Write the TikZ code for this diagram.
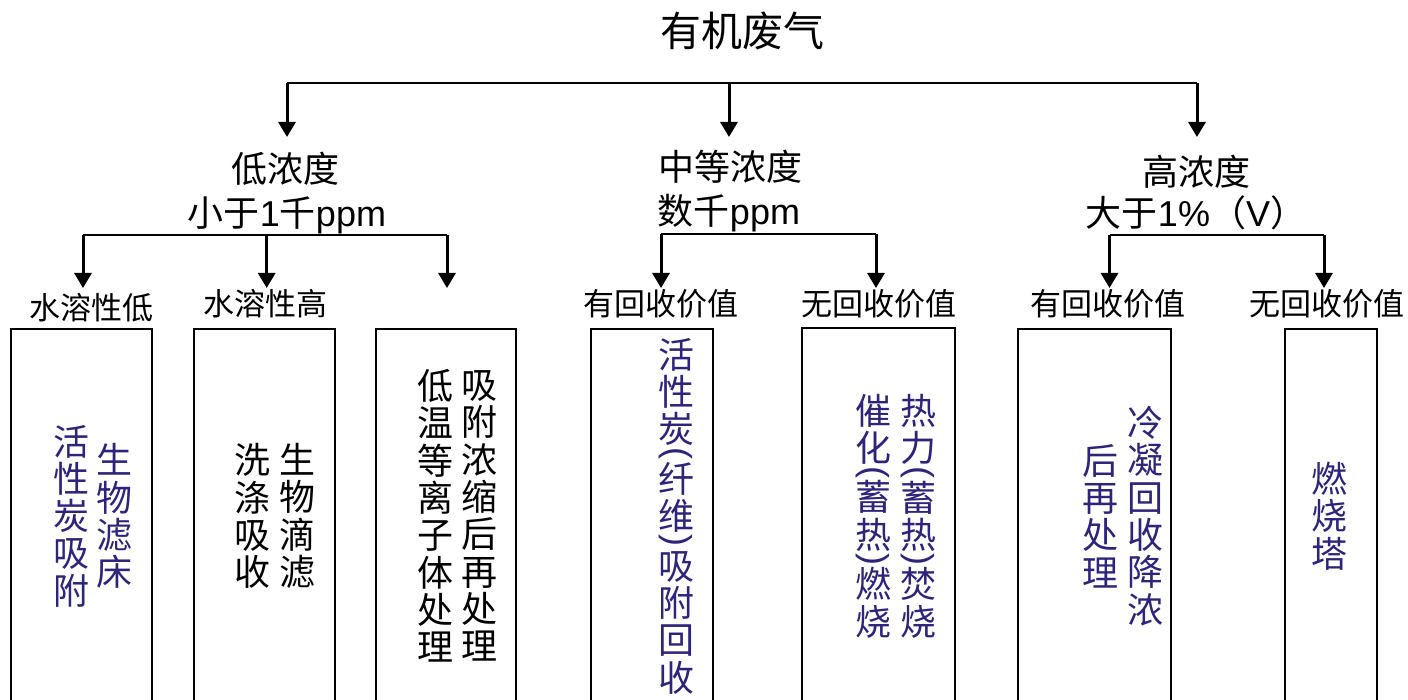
\documentclass[tikz,border=0pt]{standalone}
\usepackage{fontspec}
\usepackage{graphicx}
\setmainfont{Liberation Sans}
\newfontfamily\cjk{Noto Sans CJK SC}
\newfontfamily\lat{Liberation Sans}
\usetikzlibrary{arrows.meta}
\definecolor{vblue}{RGB}{46,36,122}
\newcommand\zh[1]{{\cjk #1}}
\newcommand\vlp{\raisebox{0.12em}{\rotatebox[origin=c]{-90}{\lat (}}}
\newcommand\vrp{\raisebox{0.12em}{\rotatebox[origin=c]{-90}{\lat )}}}
\newcommand\pgap{\\[-12.5pt]}
\begin{document}
\begin{tikzpicture}[x=1pt,y=-1pt,
  lbl/.style={inner sep=0pt, anchor=base},
  ttl/.style={lbl, font=\fontsize{41}{41}\selectfont},
  cat/.style={lbl, font=\fontsize{36}{36}\selectfont},
  sub/.style={lbl, font=\cjk\fontsize{31}{31}\selectfont},
  vcol/.style={inner sep=0pt, align=center, font=\cjk\fontsize{36}{37.3}\selectfont},
  blu/.style={text=vblue},
  boxs/.style={draw, line width=2pt, inner sep=0pt, anchor=north west, minimum height=420pt},
  bus/.style={line width=2pt},
  arr/.style={line width=3pt, -{Triangle[length=15pt,width=17pt]}}]
\useasboundingbox (0,0) rectangle (1408,700);
\clip (0,0) rectangle (1408,700);

% title
\node[ttl] (root) at (742,47) {\zh{有机废气}};

% categories
\node[cat] (low)  at (285,183) {\zh{低浓度}};
\node[cat] (lowb) at (287,227) {\zh{小于}1\zh{千}ppm};
\node[cat] (mid)  at (730,181) {\zh{中等浓度}};
\node[cat] (midb) at (729,225) {\zh{数千}ppm};
\node[cat] (high) at (1196,186) {\zh{高浓度}};
\node[cat] (highb) at (1196,227) {\zh{大于}1\%\zh{（}V\zh{）}};

% top bus and arrows
\coordinate (tb1) at (287,83);
\coordinate (tb2) at (729,83);
\coordinate (tb3) at (1197,83);
\coordinate (ta1) at (287,137);
\coordinate (ta2) at (729,137);
\coordinate (ta3) at (1197,137);
\draw[bus] (tb1) -- (tb3);
\draw[arr] (tb1) -- (ta1);
\draw[arr] (tb2) -- (ta2);
\draw[arr] (tb3) -- (ta3);

% sub labels
\node[sub] (s1) at (91,320) {水溶性低};
\node[sub] (s2) at (265,316) {水溶性高};
\node[sub] (s4) at (661,316) {有回收价值};
\node[sub] (s5) at (879,316) {无回收价值};
\node[sub] (s6) at (1108,316) {有回收价值};
\node[sub] (s7) at (1327,316) {无回收价值};

% low bus
\coordinate (lb1) at (83,235);
\coordinate (lb2) at (266.7,235);
\coordinate (lb3) at (447,235);
\coordinate (la1) at (83,288);
\coordinate (la2) at (266.7,288);
\coordinate (la3) at (447,288);
\draw[bus] (lb1) -- (lb3);
\draw[arr] (lb1) -- (la1);
\draw[arr] (lb2) -- (la2);
\draw[arr] (lb3) -- (la3);

% mid bus
\coordinate (mb1) at (661,234.5);
\coordinate (mb2) at (876,234.5);
\coordinate (ma1) at (661,288);
\coordinate (ma2) at (876,288);
\draw[bus] (mb1) -- (mb2);
\draw[arr] (mb1) -- (ma1);
\draw[arr] (mb2) -- (ma2);

% high bus
\coordinate (hb1) at (1109.5,235);
\coordinate (hb2) at (1324,235);
\coordinate (ha1) at (1109.5,288);
\coordinate (ha2) at (1324,288);
\draw[bus] (hb1) -- (hb2);
\draw[arr] (hb1) -- (ha1);
\draw[arr] (hb2) -- (ha2);

% boxes
\node[boxs, minimum width=141pt] (b1) at (10,328.5) {};
\node[boxs, minimum width=141pt] (b2) at (193,328.5) {};
\node[boxs, minimum width=140pt] (b3) at (375,328.5) {};
\node[boxs, minimum width=122pt] (b4) at (590,328.5) {};
\node[boxs, minimum width=153pt] (b5) at (801,327.5) {};
\node[boxs, minimum width=153pt] (b6) at (1017,328.5) {};
\node[boxs, minimum width=92.5pt] (b7) at (1283.5,328.5) {};

% vertical texts
\node[vcol, blu] (t1a) at (71,516) {活\\性\\炭\\吸\\附};
\node[vcol, blu] (t1b) at (114,516) {生\\物\\滤\\床};
\node[vcol] (t2a) at (252,516) {洗\\涤\\吸\\收};
\node[vcol] (t2b) at (297,516) {生\\物\\滴\\滤};
\node[vcol] (t3a) at (435,516) {低\\温\\等\\离\\子\\体\\处\\理};
\node[vcol] (t3b) at (479,516) {吸\\附\\浓\\缩\\后\\再\\处\\理};
\node[vcol, blu] (t4) at (676,516) {活\\性\\炭\pgap\vlp\pgap 纤\\维\pgap\vrp\pgap 吸\\附\\回\\收};
\node[vcol, blu] (t5a) at (873,516) {催\\化\pgap\vlp\pgap 蓄\\热\pgap\vrp\pgap 燃\\烧};
\node[vcol, blu] (t5b) at (918,516) {热\\力\pgap\vlp\pgap 蓄\\热\pgap\vrp\pgap 焚\\烧};
\node[vcol, blu] (t6a) at (1100,516) {后\\再\\处\\理};
\node[vcol, blu] (t6b) at (1145,516) {冷\\凝\\回\\收\\降\\浓};
\node[vcol, blu] (t7) at (1329,516) {燃\\烧\\塔};
\end{tikzpicture}
\end{document}
